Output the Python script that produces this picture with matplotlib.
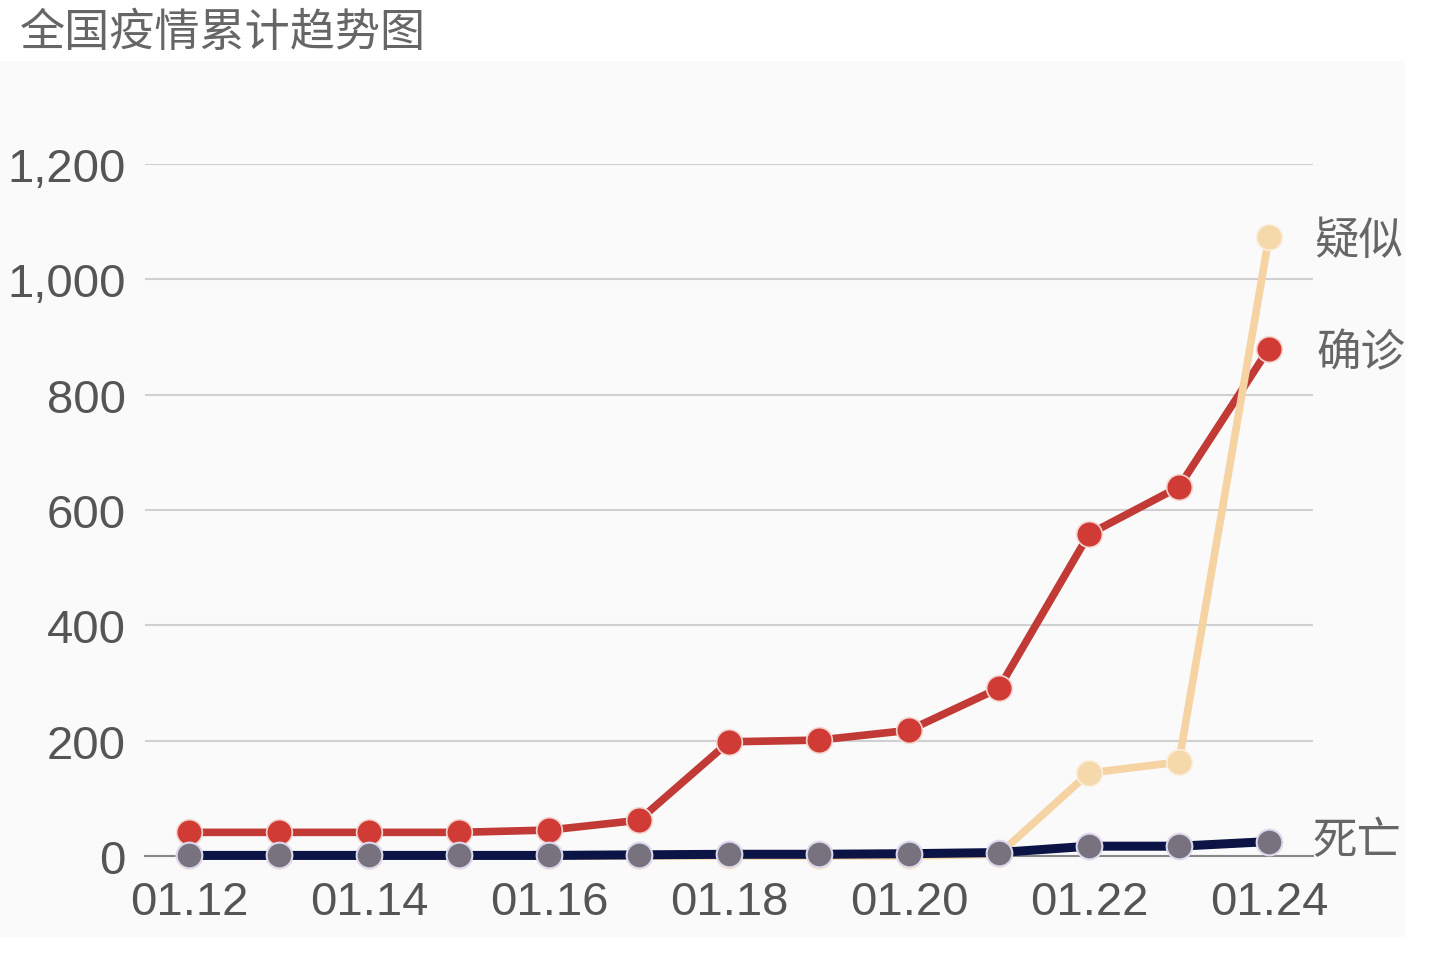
import matplotlib.pyplot as plt
from matplotlib.patches import Rectangle

plt.rcParams['font.family'] = ['Liberation Sans', 'Noto Sans CJK SC', 'DejaVu Sans']

# 数据
dates = ['01.12', '01.13', '01.14', '01.15', '01.16', '01.17', '01.18',
         '01.19', '01.20', '01.21', '01.22', '01.23', '01.24']
confirmed = [41, 41, 41, 41, 45, 62, 198, 201, 218, 291, 558, 640, 880]
suspected = [0, 0, 0, 0, 0, 0, 0, 0, 0, 3, 144, 163, 1073]
deaths = [1, 1, 1, 1, 1, 2, 3, 3, 4, 6, 17, 17, 25]
yticks = [0, 200, 400, 600, 800, 1000, 1200]

W, H = 1430, 962
fig = plt.figure(figsize=(W / 100, H / 100), dpi=100)

# 灰色背景面板
fig.patches.append(Rectangle((0, 1 - 938 / H), 1405 / W, (938 - 62) / H,
                             transform=fig.transFigure, facecolor='#fafafa',
                             edgecolor='none', zorder=-5))

ax = fig.add_axes([145 / W, 1 - 857 / H, (1313 - 145) / W, (857 - 165) / H])
ax.patch.set_alpha(0)
ax.set_zorder(2)
x = list(range(len(dates)))

ax.plot(x, confirmed, color='#c23a35', lw=5.5, marker='o', ms=18.5,
        mfc='#d03b36', mec='#f3d6d0', mew=1.2, clip_on=False, zorder=3)
ax.plot(x, suspected, color='#f5d3a3', lw=5.5, marker='o', ms=18.5,
        mfc='#f6d9ab', mec='#fbeede', mew=1.2, clip_on=False, zorder=4)
ax.plot(x, deaths, color='#0b1445', lw=6.5, marker='o', ms=18.5,
        mfc='#77727d', mec='#dcd8ee', mew=1.5, clip_on=False, zorder=5)

ax.set_xlim(-0.49, 12.49)
ax.set_ylim(0, 1200)
ax.set_yticks(yticks)
ax.set_yticklabels([f'{v:,}' for v in yticks])
ax.set_xticks(x[::2])
ax.set_xticklabels(dates[::2])
ax.tick_params(axis='both', length=0, labelsize=34, colors='#555555')
ax.tick_params(axis='y', pad=14)
ax.tick_params(axis='x', pad=17)
ax.grid(axis='y', color='#d0d0d0', lw=1.5)
for s in ['top', 'right', 'left']:
    ax.spines[s].set_visible(False)
ax.spines['bottom'].set_color('#888888')
ax.spines['bottom'].set_linewidth(1.5)

# 末端标签
lab = dict(fontsize=32, color='#666666', va='center', ha='left',
           transform=fig.transFigure, zorder=3)
fig.text(1314 / W, 1 - 242 / H, '疑似', **lab)
fig.text(1316 / W, 1 - 355 / H, '确诊', **lab)
fig.text(1312 / W, 1 - 843 / H, '死亡', **lab)

fig.text(20 / W, 1 - 34 / H, '全国疫情累计趋势图', fontsize=32.5, color='#666666',
         va='center', ha='left')

fig.savefig('out.png', dpi=100)
